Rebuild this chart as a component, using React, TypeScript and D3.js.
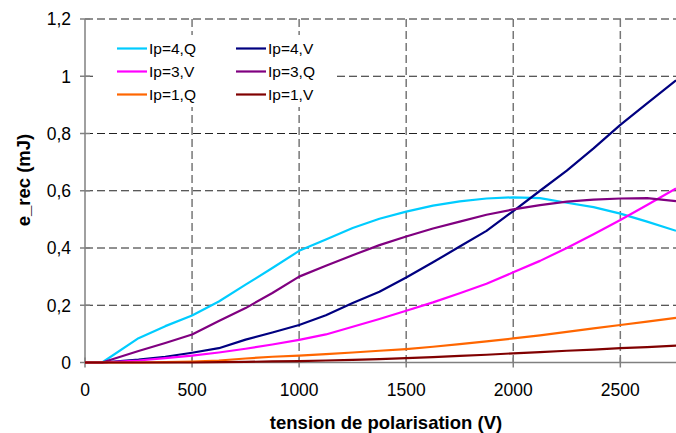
import React from "react";
import * as d3 from "d3";

const voltages = [0, 80, 250, 375, 500, 625, 750, 875, 1000, 1125, 1250, 1375, 1500, 1625, 1750, 1875, 2000, 2125, 2250, 2375, 2500, 2625, 2760];
const ip4Q = [0, 0, 0.085, 0.127, 0.164, 0.213, 0.272, 0.33, 0.39, 0.43, 0.47, 0.502, 0.527, 0.548, 0.563, 0.573, 0.577, 0.574, 0.558, 0.543, 0.52, 0.492, 0.46];
const ip4V = [0, 0, 0.01, 0.02, 0.034, 0.05, 0.08, 0.105, 0.131, 0.165, 0.208, 0.247, 0.297, 0.35, 0.405, 0.46, 0.529, 0.6, 0.67, 0.748, 0.83, 0.905, 0.986];
const ip3V = [0, 0, 0.007, 0.015, 0.024, 0.035, 0.048, 0.063, 0.079, 0.098, 0.125, 0.152, 0.181, 0.21, 0.242, 0.275, 0.315, 0.355, 0.4, 0.448, 0.498, 0.55, 0.608];
const ip3Q = [0, 0, 0.04, 0.068, 0.098, 0.145, 0.19, 0.243, 0.3, 0.338, 0.375, 0.41, 0.44, 0.468, 0.492, 0.516, 0.535, 0.55, 0.562, 0.569, 0.573, 0.574, 0.564];
const ip1Q = [0, 0, 0, 0.001, 0.003, 0.007, 0.014, 0.02, 0.024, 0.029, 0.035, 0.041, 0.047, 0.055, 0.064, 0.074, 0.084, 0.095, 0.107, 0.119, 0.131, 0.143, 0.156];
const ip1V = [0, 0, 0, 0, 0, 0.001, 0.002, 0.004, 0.005, 0.007, 0.009, 0.012, 0.015, 0.019, 0.023, 0.027, 0.032, 0.036, 0.041, 0.045, 0.05, 0.054, 0.059];

const seriesNames = ["Ip=4,Q", "Ip=4,V", "Ip=3,V", "Ip=3,Q", "Ip=1,Q", "Ip=1,V"];
const seriesValues = [ip4Q, ip4V, ip3V, ip3Q, ip1Q, ip1V];
const seriesColors = ["#00CCFF", "#000080", "#FF00FF", "#800080", "#FF6600", "#800000"];

const xTicks = [0, 500, 1000, 1500, 2000, 2500];
const yTicks = [0, 0.2, 0.4, 0.6, 0.8, 1, 1.2];

const W = 676;
const H = 433;

export default function App() {
  const x = d3.scaleLinear().domain([0, 2760]).range([85, 676]);
  const y = d3.scaleLinear().domain([0, 1.2]).range([362.5, 19]);
  const line = d3
    .line<[number, number]>()
    .x((d) => x(d[0]))
    .y((d) => y(d[1]));
  const fmt = (v: number) => String(Math.round(v * 10) / 10).replace(".", ",");
  const font = "'Liberation Sans', Arial, sans-serif";

  return (
    <svg
      width={W}
      height={H}
      style={{ position: "absolute", left: 0, top: 0, background: "#fff" }}
      fontFamily={font}
    >
      <rect x={0} y={0} width={W} height={H} fill="#fff" />
      {/* horizontal gridlines */}
      {yTicks.filter((t) => t > 0).map((t) => (
        <line key={"hy" + t} x1={x(0)} x2={676} y1={y(t)} y2={y(t)} stroke="#222" strokeWidth={1} strokeDasharray="8,4" />
      ))}
      {/* vertical gridlines */}
      {xTicks.filter((t) => t > 0).map((t) => (
        <line key={"vx" + t} x1={x(t)} x2={x(t)} y1={y(1.2)} y2={y(0)} stroke="#777" strokeWidth={1.5} strokeDasharray="8,4" />
      ))}
      {/* legend background */}
      <rect x={97} y={35} width={237} height={72} fill="#fff" />
      {/* axes */}
      <line x1={x(0)} x2={x(0)} y1={y(1.2)} y2={y(0)} stroke="#808080" strokeWidth={1.5} />
      <line x1={x(0)} x2={676} y1={y(0)} y2={y(0)} stroke="#808080" strokeWidth={1.5} />
      {yTicks.map((t) => (
        <g key={"yt" + t}>
          <line x1={x(0) - 5} x2={x(0) + 5} y1={y(t)} y2={y(t)} stroke="#808080" strokeWidth={1.5} />
          <text x={71} y={y(t)} dy="0.36em" textAnchor="end" fontSize={17.5} fill="#000">
            {fmt(t)}
          </text>
        </g>
      ))}
      {xTicks.map((t) => (
        <g key={"xt" + t}>
          <line x1={x(t)} x2={x(t)} y1={y(0) - 5} y2={y(0) + 5} stroke="#808080" strokeWidth={1.5} />
          <text x={x(t)} y={390} dy="0.36em" textAnchor="middle" fontSize={17.5} fill="#000">
            {t}
          </text>
        </g>
      ))}
      {/* series */}
      {seriesValues.map((vals, i) => (
        <path
          key={seriesNames[i]}
          d={line(voltages.map((v, j) => [v, vals[j]] as [number, number])) || ""}
          fill="none"
          stroke={seriesColors[i]}
          strokeWidth={2.2}
          strokeLinejoin="round"
        />
      ))}
      {/* legend */}
      {seriesNames.map((name, i) => {
        const col = i % 2;
        const row = Math.floor(i / 2);
        const lx = col === 0 ? 117 : 236;
        const ly = 48.5 + row * 23;
        return (
          <g key={"lg" + name}>
            <line x1={lx} x2={lx + 30} y1={ly} y2={ly} stroke={seriesColors[i]} strokeWidth={2.2} />
            <text x={lx + 32} y={ly} dy="0.36em" fontSize={15.5} fill="#000">
              {name}
            </text>
          </g>
        );
      })}
      {/* axis titles */}
      <text x={386} y={422} dy="0.36em" textAnchor="middle" fontSize={18.5} fontWeight="bold" fill="#000">
        tension de polarisation (V)
      </text>
      <text
        transform={`translate(23,180) rotate(-90)`}
        dy="0.36em"
        textAnchor="middle"
        fontSize={18.5}
        fontWeight="bold"
        fill="#000"
      >
        e_rec (mJ)
      </text>
    </svg>
  );
}
